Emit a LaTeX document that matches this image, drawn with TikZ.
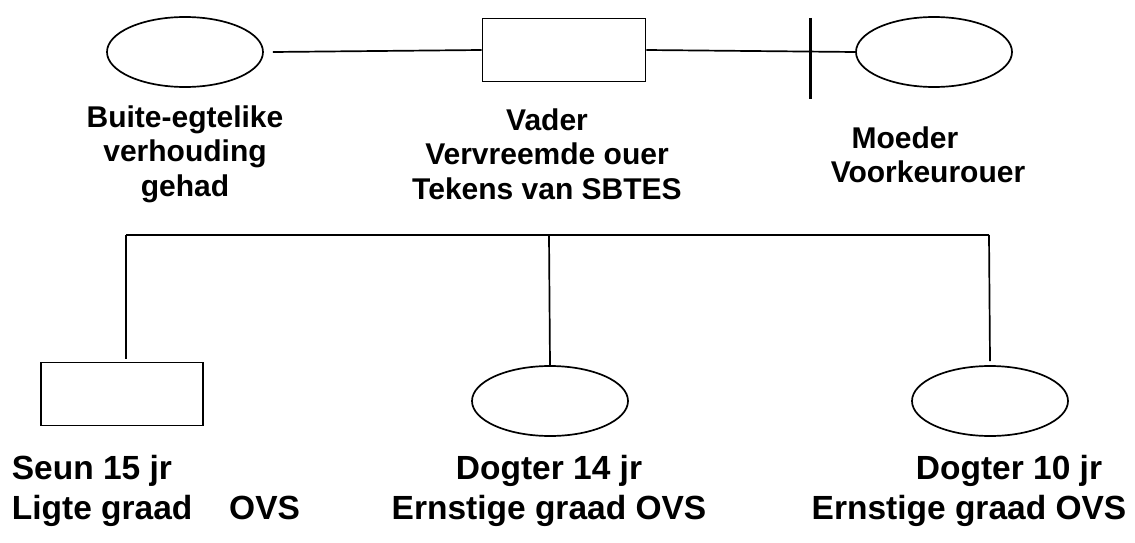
\documentclass[tikz,border=0pt]{standalone}
\usepackage{fontspec}
\setmainfont{Liberation Sans}
\usetikzlibrary{shapes.geometric,positioning,calc}

\begin{document}
\begin{tikzpicture}[x=1pt, y=-1pt, line width=1.7pt,
  fem/.style={ellipse, draw=black, minimum width=156pt, minimum height=70pt, inner sep=0pt},
  mal/.style={rectangle, draw=black, minimum width=163pt, minimum height=63pt, inner sep=0pt},
  lbl/.style={font=\fontsize{30}{34.5}\selectfont\bfseries, align=center, inner sep=0pt},
  kid/.style={font=\fontsize{33.5}{40}\selectfont\bfseries, align=center, inner sep=0pt},
  tie/.style={draw=black, line width=1.7pt},
]
\useasboundingbox (0,0) rectangle (1135,543);

%% Ouers
\node[fem] (affair) at (185,52) {};
\node[mal] (father) at (564,50) {};
\node[fem] (mother) at (934,52) {};

\node[lbl] (affairtxt) at (185,154) {Buite-egtelike\\verhouding\\gehad};
\node[lbl] (fathertxt) at (547,154) {Vader\\Vervreemde ouer\\Tekens van SBTES};
\node[lbl] (mothertxt) at (928,155) {Moeder\hspace*{46pt}\\Voorkeurouer};

\coordinate (split top) at (810,18);
\coordinate (split bot) at (810,99);

\draw[tie] ([xshift=9pt]affair.east) -- (father.west);
\draw[tie] (father.east) -- (mother.west);
\draw[line width=3pt] (split top) -- (split bot);

%% Kinders
\node[mal, minimum width=162pt] (son) at (122,394) {};
\node[fem] (girlA) at (550,401) {};
\node[fem] (girlB) at (990,401) {};

\coordinate (sib left) at (126,235);
\coordinate (sib mid) at (549,235);
\coordinate (sib right) at (989,235);

\draw[tie] (sib left) -- (sib right);
\draw[tie] (sib left) -- ([yshift=3pt]son.north -| sib left);
\draw[tie] (sib mid) -- (girlA.north);
\draw[tie] (sib right) -- ([yshift=4pt]girlB.north);

\node[kid, anchor=west, align=left] (sontxt) at (11,491) {Seun 15 jr\\Ligte graad\hspace{1.1em}OVS};
\node[kid] (girlAtxt) at (549,491) {Dogter 14 jr\\Ernstige graad OVS};
\node[kid] (girlBtxt) at (969,491) {\hspace*{80pt}Dogter 10 jr\\Ernstige graad OVS};

\end{tikzpicture}
\end{document}
